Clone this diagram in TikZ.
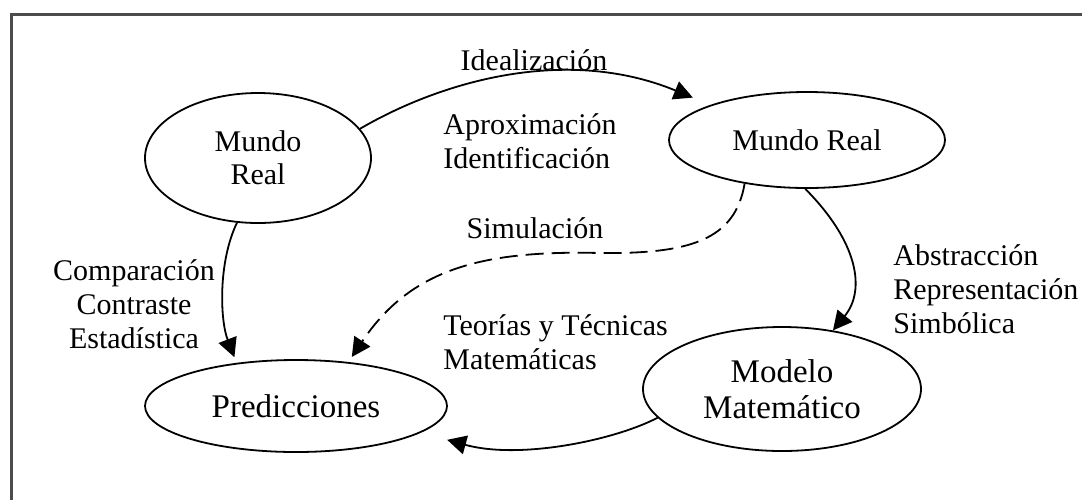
\documentclass[tikz,border=0pt]{standalone}
\usepackage{fontspec}
\setmainfont{Liberation Serif}
\usetikzlibrary{shapes.geometric,arrows.meta}
\tikzset{
oval/.style={
  ellipse, draw, line width=0.9pt, inner sep=0pt,
  align=center,
  font=\fontsize{15pt}{16.5pt}\selectfont
},
big/.style={font=\fontsize{16.5pt}{18pt}\selectfont},
lbl/.style={inner sep=0pt, font=\fontsize{15pt}{17pt}\selectfont},
conn/.style={line width=0.9pt, -{Triangle[length=9.5pt,width=9.5pt]}},
frame/.style={line width=1.5pt, draw=black!70}
}

\begin{document}
\begin{tikzpicture}[x=0.5pt,y=-0.5pt]
\useasboundingbox (0,0) rectangle (1082,500);
\draw[frame] (1082,14) -- (11,14) -- (11,500);
% the ellipses
\node[oval, minimum width=113pt, minimum height=65pt] (real1) at (258,158) {Mundo\\Real};
\node[oval, minimum width=138pt, minimum height=48pt] (real2) at (807,140) {Mundo Real};
\node[oval, big, minimum width=151pt, minimum height=46pt] (pred) at (296,406) {Predicciones};
\node[oval, big, minimum width=139pt, minimum height=62pt] (mod) at (782,389) {Modelo\\Matemático};
% the labels
\node[lbl] (ideal) at (534,60) {Idealización};
\node[lbl, anchor=west, align=left] (aprox) at (443,141) {Aproximación\\Identificación};
\node[lbl] (simul) at (535,228) {Simulación};
\node[lbl, align=center] (comp) at (134,304) {Comparación\\Contraste\\Estadística};
\node[lbl, anchor=west, align=left] (abst) at (893,289) {Abstracción\\Representación\\Simbólica};
\node[lbl, anchor=west, align=left] (teor) at (443,342) {Teorías y Técnicas\\Matemáticas};
% the arrows
\draw[conn, shorten >=9.5pt] (real1.16) .. controls (440,82) and (565,45) .. (real2.160);
\draw[conn] (real2.268) .. controls (858,242) and (866,290) .. (mod.49);
\draw[conn, shorten >=13.5pt] (mod.193) .. controls (615,440) and (520,460) .. (pred.-12);
\draw[conn, shorten >=3pt] (real1.252) .. controls (218,262) and (220,320) .. (pred.144);
\draw[conn, shorten >=3pt, dash pattern=on 9pt off 4pt]
  (real2.215) .. controls (735,240) and (690,254) .. (600,253)
  .. controls (480,250) and (410,270) .. (pred.40);
\end{tikzpicture}
\end{document}
